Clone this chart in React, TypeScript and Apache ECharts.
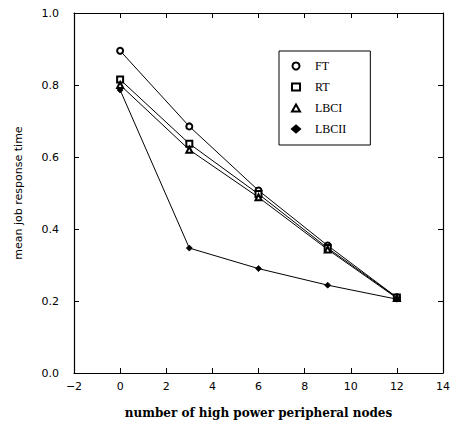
import React, { useEffect, useRef } from "react";
import * as echarts from "echarts";

const xValues = [0, 3, 6, 9, 12];
const seriesNames = ["FT", "RT", "LBCI", "LBCII"];
const ftValues = [0.895, 0.685, 0.507, 0.354, 0.21];
const rtValues = [0.815, 0.637, 0.497, 0.347, 0.21];
const lbc1Values = [0.8, 0.62, 0.488, 0.343, 0.208];
const lbc2Values = [0.786, 0.347, 0.29, 0.244, 0.205];
const xTicks = [-2, 0, 2, 4, 6, 8, 10, 12, 14];
const yTicks = [0.0, 0.2, 0.4, 0.6, 0.8, 1.0];

const symbols = ["emptyCircle", "emptyRect", "emptyTriangle", "diamond"];
const sizes = [6, 6, 6, 6];

export default function App() {
  const ref = useRef<HTMLDivElement>(null);
  useEffect(() => {
    if (!ref.current) return;
    const chart = echarts.init(ref.current, null, { renderer: "svg" });
    const all = [ftValues, rtValues, lbc1Values, lbc2Values];
    const axisLabelStyle = {
      color: "#000",
      fontFamily: "DejaVu Sans",
      fontSize: 11,
    };
    const axisLine = { show: true, onZero: false, lineStyle: { color: "#000", width: 1.2 } };
    const axisTick = { show: true, inside: true, length: 5, lineStyle: { color: "#000" } };
    chart.setOption({
      animation: false,
      backgroundColor: "#fff",
      grid: { left: 74, right: 13, top: 13, bottom: 59, containLabel: false },
      xAxis: [
        {
          type: "value",
          min: xTicks[0],
          max: xTicks[xTicks.length - 1],
          interval: 2,
          position: "bottom",
          axisLine,
          axisTick,
          axisLabel: {
            ...axisLabelStyle,
            margin: 8,
            formatter: (v: number) => String(v).replace("-", "\u2212"),
          },
          splitLine: { show: false },
          name: "number of high power peripheral nodes",
          nameLocation: "middle",
          nameGap: 34,
          nameTextStyle: {
            color: "#000",
            fontFamily: "DejaVu Serif",
            fontWeight: "bold",
            fontSize: 12,
          },
        },
        {
          type: "value",
          min: xTicks[0],
          max: xTicks[xTicks.length - 1],
          interval: 2,
          position: "top",
          axisLine,
          axisTick,
          axisLabel: { show: false },
          splitLine: { show: false },
        },
      ],
      yAxis: [
        {
          type: "value",
          min: yTicks[0],
          max: yTicks[yTicks.length - 1],
          interval: 0.2,
          position: "left",
          axisLine,
          axisTick,
          axisLabel: {
            ...axisLabelStyle,
            margin: 15,
            formatter: (v: number) => v.toFixed(1),
          },
          splitLine: { show: false },
          name: "mean job response time",
          nameLocation: "middle",
          nameGap: 50,
          nameRotate: 90,
          nameTextStyle: {
            color: "#000",
            fontFamily: "DejaVu Sans",
            fontSize: 11,
          },
        },
        {
          type: "value",
          min: yTicks[0],
          max: yTicks[yTicks.length - 1],
          interval: 0.2,
          position: "right",
          axisLine,
          axisTick,
          axisLabel: { show: false },
          splitLine: { show: false },
        },
      ],
      legend: {
        show: true,
        orient: "vertical",
        left: 279,
        top: 51,
        width: 92,
        padding: [9, 24, 10, 12],
        itemGap: 9,
        itemWidth: 8,
        itemHeight: 7,
        borderColor: "#000",
        borderWidth: 1,
        backgroundColor: "#fff",
        textStyle: {
          color: "#000",
          fontFamily: "Liberation Serif",
          fontSize: 12,
          padding: [0, 0, 0, 10],
        },
        data: seriesNames.map((n, i) => ({ name: n, icon: symbols[i] })),
      },
      series: seriesNames.map((name, i) => ({
        name,
        type: "line",
        xAxisIndex: 0,
        yAxisIndex: 0,
        data: xValues.map((x, j) => [x, all[i][j]]),
        symbol: symbols[i],
        symbolSize: sizes[i],
        showAllSymbol: true,
        lineStyle: { color: "#000", width: 1 },
        itemStyle: { color: "#000", borderColor: "#000", borderWidth: 0.8 },
        emphasis: { disabled: true },
      })),
    });
    return () => chart.dispose();
  }, []);
  return <div ref={ref} style={{ width: 456, height: 432, position: "absolute", left: 0, top: 0 }} />;
}
